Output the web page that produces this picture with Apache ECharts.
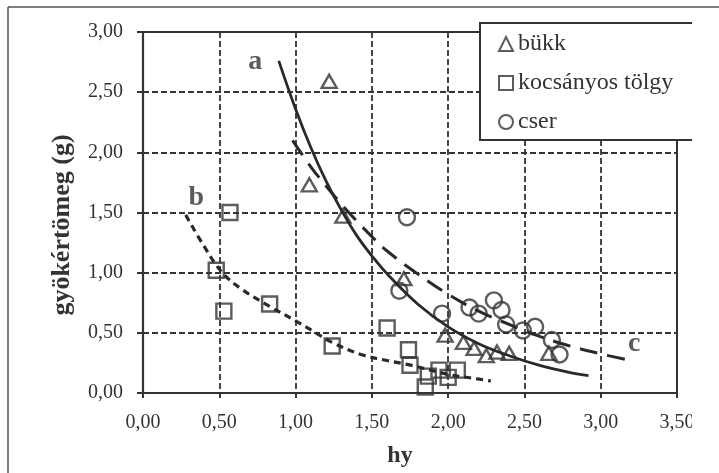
<!DOCTYPE html>
<html>
<head>
<meta charset="utf-8">
<script src="https://cdn.jsdelivr.net/npm/echarts@6/dist/echarts.min.js"></script>
<style>
  html, body { margin: 0; padding: 0; background: #fff; }
</style>
</head>
<body>
<div id="chart" style="width: 719px; height: 473px"></div>
<script>
// measured points (hy, gyökértömeg)
var bukk = [[1.22, 2.59], [1.09, 1.73], [1.31, 1.47], [1.71, 0.95], [1.98, 0.48], [2.10, 0.42],
  [2.17, 0.37], [2.25, 0.31], [2.32, 0.34], [2.40, 0.33], [2.66, 0.33]]
var tolgy = [[0.57, 1.50], [0.48, 1.02], [0.53, 0.68], [0.83, 0.74], [1.24, 0.39], [1.60, 0.54],
  [1.74, 0.36], [1.75, 0.23], [1.85, 0.05], [1.87, 0.14], [1.94, 0.19], [2.00, 0.13], [2.06, 0.19]]
var cser = [[1.73, 1.46], [1.68, 0.85], [1.96, 0.66], [2.14, 0.71], [2.20, 0.66], [2.30, 0.77],
  [2.35, 0.69], [2.38, 0.57], [2.49, 0.52], [2.57, 0.55], [2.68, 0.44], [2.73, 0.32]]

// fitted curves
var curveA = [[0.89, 2.76], [1.0, 2.36], [1.1, 2.04], [1.2, 1.76], [1.3, 1.52], [1.4, 1.31], [1.5, 1.14],
  [1.6, 0.99], [1.8, 0.74], [2.0, 0.55], [2.2, 0.41], [2.4, 0.31], [2.6, 0.23], [2.8, 0.17], [2.92, 0.145]]
var curveB = [[0.28, 1.48], [0.4, 1.22], [0.52, 1.0], [0.65, 0.86], [0.83, 0.72], [1.0, 0.60], [1.12, 0.51],
  [1.24, 0.42], [1.43, 0.32], [1.6, 0.27], [1.76, 0.23], [2.0, 0.155], [2.15, 0.125], [2.28, 0.10]]
var curveC = [[0.98, 2.10], [1.1, 1.88], [1.2, 1.72], [1.3, 1.57], [1.4, 1.43], [1.5, 1.30], [1.6, 1.18],
  [1.8, 0.99], [2.0, 0.82], [2.2, 0.68], [2.4, 0.57], [2.6, 0.47], [2.8, 0.39], [3.0, 0.325], [3.2, 0.27]]

var curveLabels = [['a', 0.735, 2.75], ['b', 0.35, 1.62], ['c', 3.22, 0.41]]
var seriesNames = ['bükk', 'kocsányos tölgy', 'cser']

var ink = '#333'
var serif = 'Liberation Serif'

function fmt (v) {
  return v.toFixed(2).replace('.', ',')
}

var chart = echarts.init(document.getElementById('chart'))
chart.setOption({
  animation: false,
  textStyle: { fontFamily: serif, color: ink },
  grid: {
    left: 143,
    right: 42,
    top: 32,
    bottom: 79,
    show: true,
    borderColor: ink,
    borderWidth: 2
  },
  legend: {
    data: seriesNames,
    orient: 'vertical',
    left: 480,
    top: 23,
    padding: [9, 40, 6, 18],
    itemGap: 15,
    itemWidth: 14,
    itemHeight: 14,
    backgroundColor: '#fff',
    borderColor: ink,
    borderWidth: 2,
    borderRadius: 0,
    textStyle: { fontFamily: serif, fontSize: 24, color: ink }
  },
  xAxis: {
    type: 'value',
    min: 0,
    max: 3.5,
    interval: 0.5,
    name: 'hy',
    nameLocation: 'middle',
    nameGap: 51,
    nameTextStyle: { fontFamily: serif, fontSize: 24, fontWeight: 'bold', color: ink, padding: [0, 20, 0, 0] },
    axisLine: { lineStyle: { color: ink, width: 2.2 } },
    axisTick: { show: true, length: 5, lineStyle: { color: ink, width: 2 } },
    axisLabel: { margin: 20, fontFamily: serif, fontSize: 20, color: ink, formatter: fmt },
    splitLine: { lineStyle: { color: ink, width: 1.8, type: [6, 3] } }
  },
  yAxis: {
    type: 'value',
    min: 0,
    max: 3,
    interval: 0.5,
    axisLine: { show: true, lineStyle: { color: ink, width: 2.2 } },
    axisTick: { show: true, length: 6, lineStyle: { color: ink, width: 2 } },
    axisLabel: { margin: 20, fontFamily: serif, fontSize: 20, color: ink, formatter: fmt },
    splitLine: { lineStyle: { color: ink, width: 1.8, type: [6, 3] } }
  },
  graphic: [
    {
      type: 'text',
      x: 62,
      y: 225,
      rotation: Math.PI / 2,
      style: {
        text: 'gyökértömeg (g)',
        font: 'bold 26px "Liberation Serif"',
        fill: ink,
        align: 'center',
        verticalAlign: 'middle'
      }
    },
    {
      type: 'rect',
      z: 100,
      shape: { x: 692, y: 12, width: 30, height: 470 },
      style: { fill: '#fff' }
    },
    {
      type: 'line',
      z: 101,
      shape: { x1: 8, y1: 7, x2: 719, y2: 7 },
      style: { stroke: '#555', lineWidth: 1.5 }
    },
    {
      type: 'line',
      z: 101,
      shape: { x1: 8, y1: 7, x2: 8, y2: 473 },
      style: { stroke: '#555', lineWidth: 1.5 }
    }
  ],
  series: [
    {
      type: 'line',
      data: curveA,
      smooth: 0.4,
      showSymbol: false,
      silent: true,
      lineStyle: { color: '#2a2a2a', width: 2.8 }
    },
    {
      type: 'line',
      data: curveB,
      smooth: 0.4,
      showSymbol: false,
      silent: true,
      lineStyle: { color: '#2a2a2a', width: 3.2, type: [7, 5] }
    },
    {
      type: 'line',
      data: curveC,
      smooth: 0.4,
      showSymbol: false,
      silent: true,
      lineStyle: { color: '#2a2a2a', width: 3, type: [18, 10] }
    },
    {
      name: seriesNames[0],
      type: 'scatter',
      data: bukk,
      symbol: 'triangle',
      symbolSize: [15, 13],
      itemStyle: { color: 'rgba(0,0,0,0)', borderColor: ink, borderWidth: 2.4 }
    },
    {
      name: seriesNames[1],
      type: 'scatter',
      data: tolgy,
      symbol: 'rect',
      symbolSize: 15,
      itemStyle: { color: 'rgba(0,0,0,0)', borderColor: ink, borderWidth: 2.4 }
    },
    {
      name: seriesNames[2],
      type: 'scatter',
      data: cser,
      symbol: 'circle',
      symbolSize: 16,
      itemStyle: { color: 'rgba(0,0,0,0)', borderColor: ink, borderWidth: 2.4 }
    },
    {
      type: 'scatter',
      silent: true,
      symbolSize: 1,
      itemStyle: { color: 'rgba(0,0,0,0)' },
      data: curveLabels.map(function (d) {
        return { name: d[0], value: [d[1], d[2]] }
      }),
      label: {
        show: true,
        position: 'inside',
        formatter: '{b}',
        fontFamily: serif,
        fontSize: 28,
        fontWeight: 'bold',
        color: ink
      }
    }
  ]
})
</script>
</body>
</html>
